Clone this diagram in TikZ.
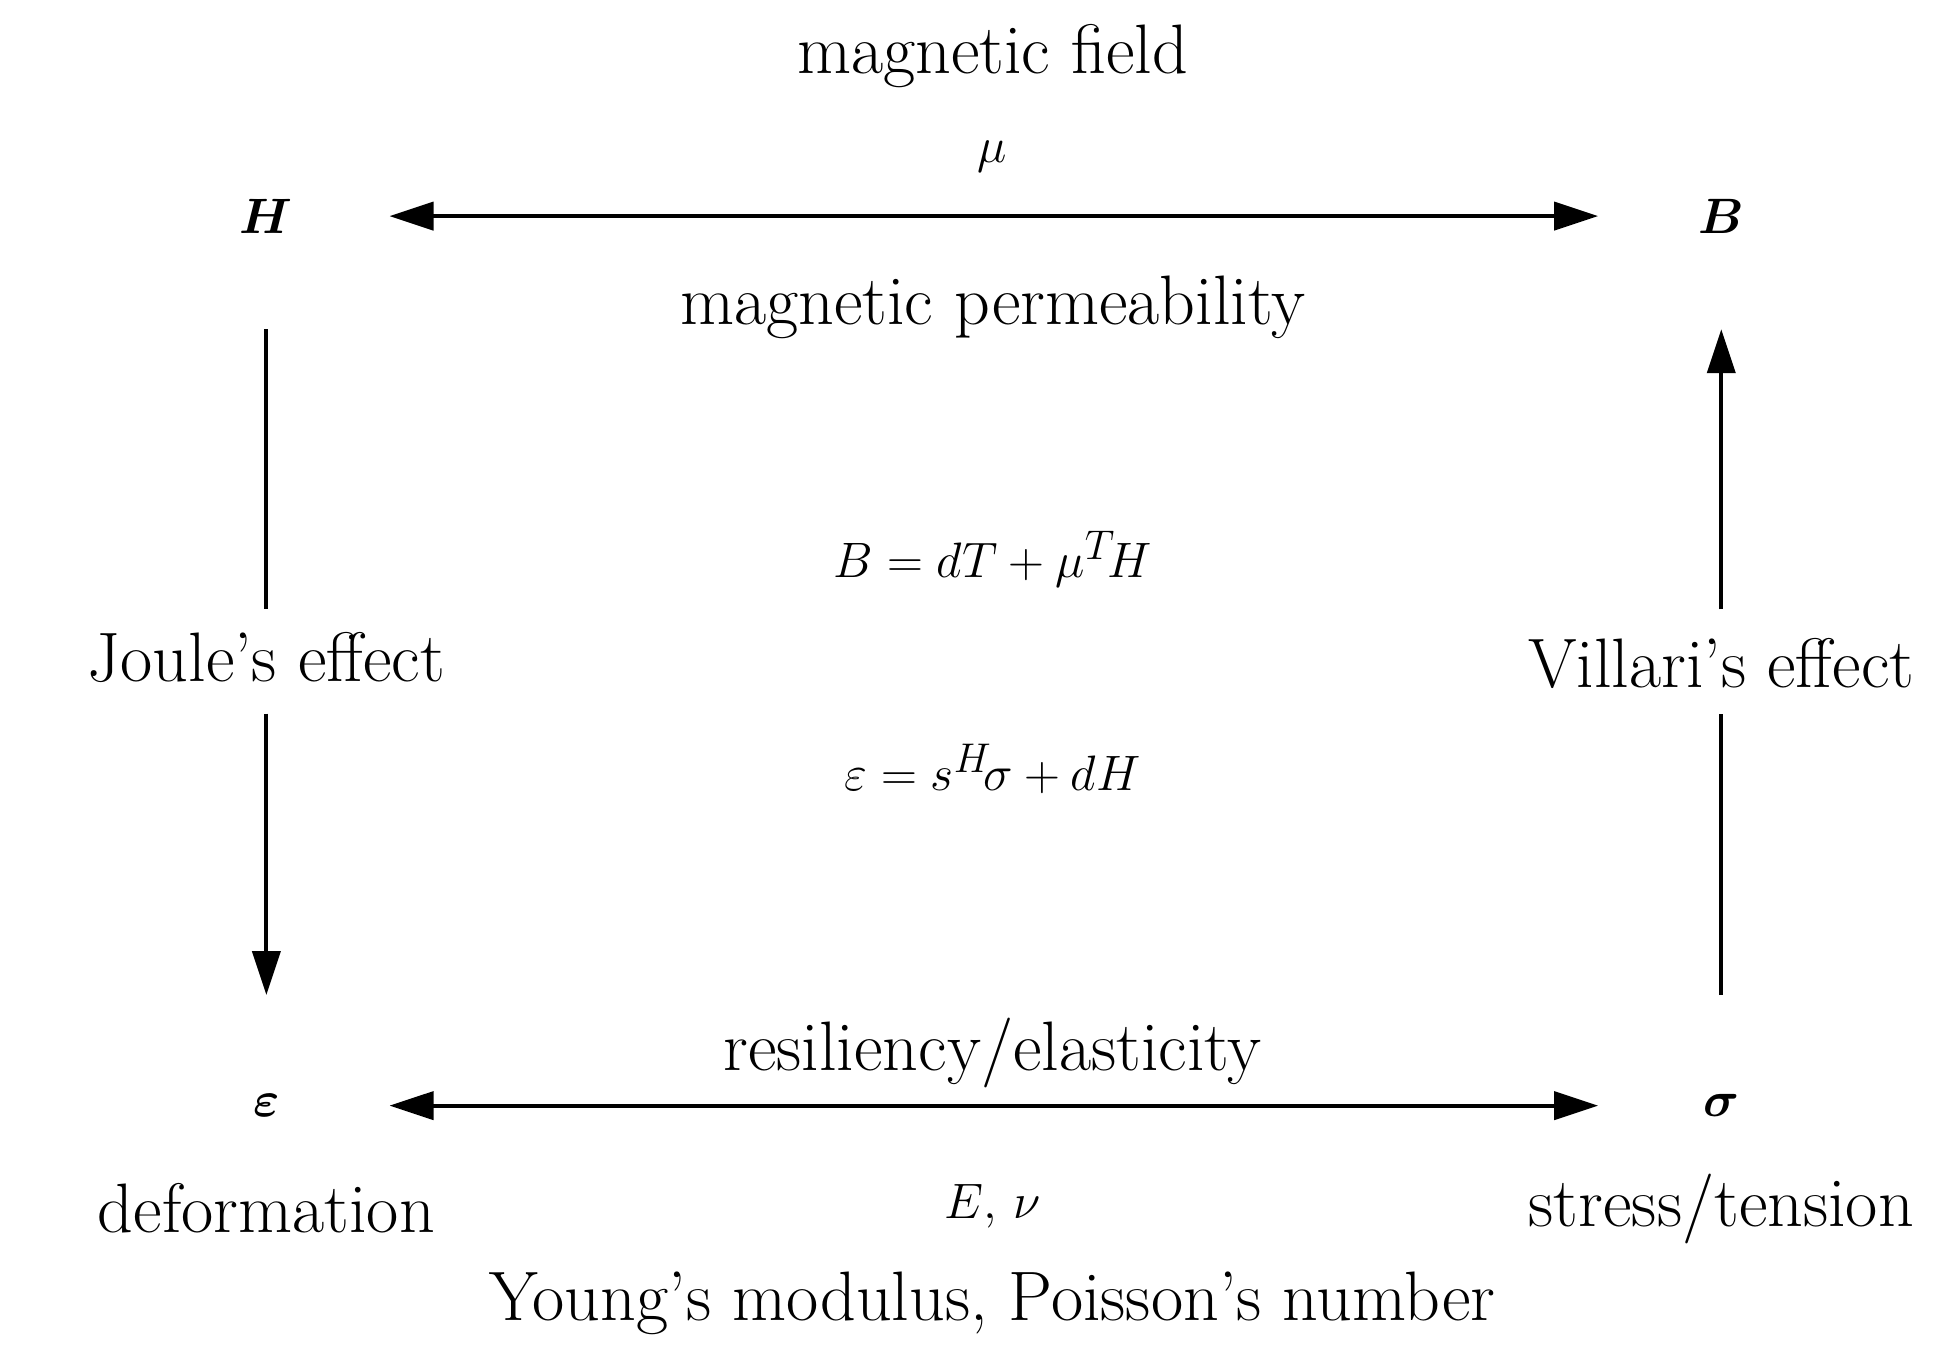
\documentclass[tikz,border=0pt]{standalone}
\usepackage{amsmath,bm}
\usetikzlibrary{arrows.meta}
\begin{document}
\begin{tikzpicture}[x=0.628pt,y=-0.628pt,
  txt/.style={font=\fontsize{35}{42}\selectfont,inner sep=0pt},
  big/.style={font=\fontsize{44}{50}\selectfont,inner sep=0pt},
  con/.style={line width=2pt},
  arr/.style={con,-{Triangle[length=22pt,width=14pt]}},
  darr/.style={con,{Triangle[length=22pt,width=14pt]}-{Triangle[length=22pt,width=14pt]}}]
\useasboundingbox (0,0) rectangle (1560,1092);
\node[big] (H) at (212,172) {$\bm{H}$};
\node[big] (B) at (1370,172) {$\bm{B}$};
\node[big] (e) at (212,880) {$\bm{\varepsilon}$};
\node[big] (s) at (1370,880) {$\bm{\sigma}$};
\coordinate (ha) at (310,172); \coordinate (hb) at (1272,172);
\coordinate (ea) at (310,880); \coordinate (eb) at (1272,880);
\draw[darr] (ha) -- (hb);
\draw[darr] (ea) -- (eb);
\node[txt] (mf) at (790,45) {magnetic field};
\node[big] (mu) at (790,125) {$\mu$};
\node[txt] (mp) at (790,245) {magnetic permeability};
\node[txt] (J) at (212,523) {Joule's effect};
\node[txt] (V) at (1370,528) {Villari's effect};
\coordinate (l1) at (212,262); \coordinate (l2) at (212,485);
\coordinate (l3) at (212,568); \coordinate (l4) at (212,792);
\draw[con] (l1) -- (l2);
\draw[arr] (l3) -- (l4);
\coordinate (r1) at (1370,792); \coordinate (r2) at (1370,568);
\coordinate (r3) at (1370,485); \coordinate (r4) at (1370,262);
\draw[con] (r1) -- (r2);
\draw[arr] (r3) -- (r4);
\node[big] (eq1) at (790,445) {$B = dT + \mu^{\scriptscriptstyle T}\!H$};
\node[big] (eq2) at (790,612) {$\varepsilon = s^{\scriptscriptstyle H}\!\sigma + dH$};
\node[txt] (re) at (790,838) {resiliency/elasticity};
\node[txt] (de) at (212,962) {deformation};
\node[big] (En) at (790,960) {$E,\,\nu$};
\node[txt] (st) at (1370,962) {stress/tension};
\node[txt] (Y) at (790,1037) {Young's modulus, Poisson's number};
\end{tikzpicture}
\end{document}
